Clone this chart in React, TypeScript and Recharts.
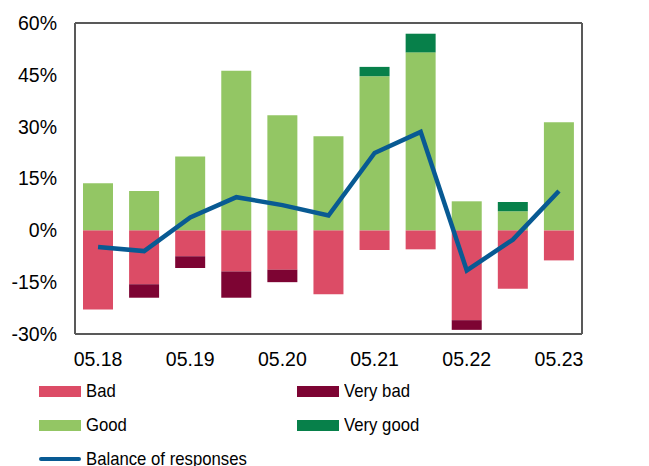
import React from 'react';
import {
  ComposedChart,
  Bar,
  Line,
  XAxis,
  YAxis,
  CartesianGrid,
  ReferenceLine,
} from 'recharts';

// half-yearly survey periods, labels shown every other one
const periods = ['05.18', '11.18', '05.19', '11.19', '05.20', '11.20', '05.21', '11.21', '05.22', '11.22', '05.23'];
const bad = [-22.9, -15.6, -7.5, -11.9, -11.4, -18.5, -5.7, -5.5, -26.0, -16.9, -8.7];
const veryBad = [0, -3.9, -3.4, -7.6, -3.6, 0, 0, 0, -2.8, 0, 0];
const good = [13.6, 11.4, 21.4, 46.2, 33.3, 27.2, 44.6, 51.5, 8.4, 5.5, 31.3];
const veryGood = [0, 0, 0, 0, 0, 0, 2.7, 5.4, 0, 2.7, 0];
const balance = [-4.8, -6.0, 3.7, 9.6, 7.3, 4.3, 22.4, 28.5, -11.6, -2.7, 11.4];
const yTicks = [-30, -15, 0, 15, 30, 45, 60];

const data = periods.map((p, i) => ({
  period: p,
  bad: bad[i],
  veryBad: veryBad[i],
  good: good[i],
  veryGood: veryGood[i],
  balance: balance[i],
}));

const COLORS = {
  bad: '#dc4c66',
  veryBad: '#7d0433',
  good: '#93c664',
  veryGood: '#07804a',
  line: '#085a93',
  frame: '#595959',
  grid: '#cccccc',
};

const FONT = '"Liberation Sans", Arial, sans-serif';
const tickStyle = { fontSize: 19.5, fill: '#000', fontFamily: FONT };

const legendRows = [
  [
    { label: 'Bad', color: COLORS.bad },
    { label: 'Very bad', color: COLORS.veryBad },
  ],
  [
    { label: 'Good', color: COLORS.good },
    { label: 'Very good', color: COLORS.veryGood },
  ],
];

const Swatch = ({ color }: { color: string }) => (
  <div style={{ width: 42, height: 11, background: color, marginRight: 5 }} />
);

// legend type in the original is a touch narrower than the axis labels
const LegendText = ({ children }: { children: React.ReactNode }) => (
  <span style={{ display: 'inline-block', transform: 'scaleX(0.88)', transformOrigin: 'left center', whiteSpace: 'nowrap' }}>
    {children}
  </span>
);

export default function App() {
  return (
    <div style={{ position: 'absolute', left: 0, top: 0, width: 649, height: 466, background: '#fff', overflow: 'hidden' }}>
      <ComposedChart
        width={649}
        height={370}
        data={data}
        stackOffset="sign"
        margin={{ top: 23, right: 0, bottom: 0, left: 0 }}
      >
        <CartesianGrid vertical={false} stroke={COLORS.grid} />
        <XAxis
          dataKey="period"
          interval={1}
          tickLine={false}
          tickMargin={12}
          height={36}
          axisLine={{ stroke: COLORS.frame, strokeWidth: 2 }}
          tick={tickStyle}
        />
        <YAxis
          yAxisId="left"
          domain={[-30, 60]}
          ticks={yTicks}
          width={75}
          tickLine={false}
          tickMargin={12}
          axisLine={{ stroke: COLORS.frame, strokeWidth: 2 }}
          tick={tickStyle}
          tickFormatter={(v) => `${v}%`}
        />
        <YAxis
          yAxisId="right"
          orientation="right"
          domain={[-30, 60]}
          ticks={yTicks}
          width={67}
          tickLine={false}
          tickMargin={10}
          axisLine={{ stroke: COLORS.frame, strokeWidth: 2 }}
          tick={tickStyle}
          tickFormatter={(v) => `${v}%`}
        />
        <ReferenceLine yAxisId="left" y={60} stroke={COLORS.frame} strokeWidth={2} />
        <Bar yAxisId="left" dataKey="bad" stackId="s" fill={COLORS.bad} barSize={30} isAnimationActive={false} />
        <Bar yAxisId="left" dataKey="veryBad" stackId="s" fill={COLORS.veryBad} barSize={30} isAnimationActive={false} />
        <Bar yAxisId="left" dataKey="good" stackId="s" fill={COLORS.good} barSize={30} isAnimationActive={false} />
        <Bar yAxisId="left" dataKey="veryGood" stackId="s" fill={COLORS.veryGood} barSize={30} isAnimationActive={false} />
        <Line
          yAxisId="left"
          type="linear"
          dataKey="balance"
          stroke={COLORS.line}
          strokeWidth={4.5}
          dot={false}
          isAnimationActive={false}
        />
      </ComposedChart>

      <div style={{ position: 'absolute', left: 39, top: 374, fontFamily: FONT, fontSize: 19, color: '#000' }}>
        {legendRows.map((row, r) => (
          <div key={r} style={{ display: 'flex', height: 34, alignItems: 'center' }}>
            {row.map((item) => (
              <div key={item.label} style={{ display: 'flex', alignItems: 'center', width: 258 }}>
                <Swatch color={item.color} />
                <LegendText>{item.label}</LegendText>
              </div>
            ))}
          </div>
        ))}
        <div style={{ display: 'flex', height: 34, alignItems: 'center' }}>
          <div style={{ width: 42, height: 4.5, borderRadius: 3, background: COLORS.line, marginRight: 5 }} />
          <LegendText>Balance of responses</LegendText>
        </div>
      </div>
    </div>
  );
}
